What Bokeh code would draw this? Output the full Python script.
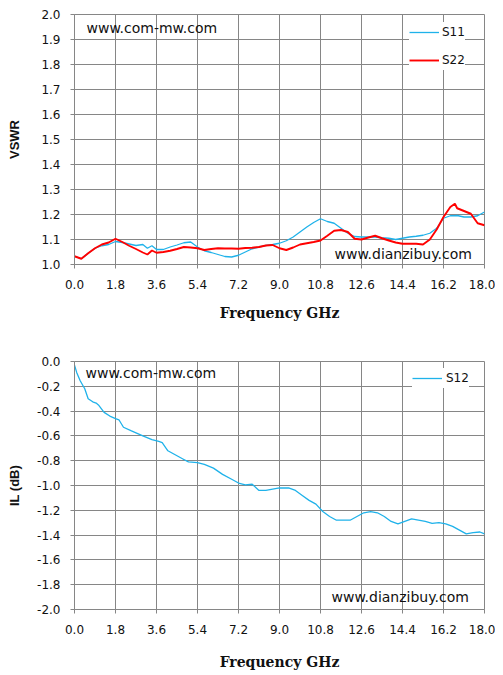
from bokeh.plotting import figure
from bokeh.models import (Range1d, FixedTicker, NumeralTickFormatter, Legend,
                          LegendItem, Label)
from bokeh.layouts import column
from bokeh.embed import file_html
from bokeh.resources import INLINE

# ---------------- data ----------------
freq_vswr = [0.0, 0.3, 0.6, 0.9, 1.2, 1.5, 1.8, 2.1, 2.4, 2.7, 3.0, 3.2, 3.4, 3.6,
             3.9, 4.2, 4.5, 4.8, 5.1, 5.4, 5.7, 6.0, 6.3, 6.6, 6.9, 7.2, 7.5, 7.8,
             8.1, 8.4, 8.7, 9.0, 9.3, 9.6, 9.9, 10.2, 10.5, 10.8, 11.1, 11.4, 11.7,
             12.0, 12.3, 12.6, 12.9, 13.2, 13.5, 13.8, 14.1, 14.4, 14.7, 15.0, 15.3,
             15.6, 15.9, 16.2, 16.5, 16.7, 16.8, 17.1, 17.4, 17.7, 18.0]
s11 = [1.033, 1.023, 1.045, 1.065, 1.075, 1.080, 1.092, 1.088, 1.082, 1.076, 1.080,
       1.065, 1.075, 1.060, 1.060, 1.070, 1.078, 1.087, 1.090, 1.070, 1.055, 1.048,
       1.040, 1.032, 1.030, 1.037, 1.050, 1.063, 1.070, 1.076, 1.080, 1.085, 1.095,
       1.110, 1.130, 1.150, 1.168, 1.183, 1.172, 1.165, 1.145, 1.125, 1.112, 1.110,
       1.110, 1.110, 1.107, 1.105, 1.100, 1.105, 1.110, 1.113, 1.117, 1.125, 1.145,
       1.185, 1.195, 1.195, 1.196, 1.190, 1.190, 1.195, 1.210]
s22 = [1.033, 1.023, 1.045, 1.065, 1.080, 1.088, 1.103, 1.090, 1.075, 1.062, 1.048,
       1.040, 1.056, 1.047, 1.050, 1.055, 1.062, 1.070, 1.068, 1.065, 1.058, 1.062,
       1.065, 1.064, 1.064, 1.063, 1.066, 1.067, 1.070, 1.076, 1.078, 1.065, 1.058,
       1.068, 1.080, 1.085, 1.090, 1.096, 1.115, 1.135, 1.138, 1.130, 1.103, 1.100,
       1.108, 1.115, 1.105, 1.096, 1.088, 1.083, 1.083, 1.083, 1.080, 1.100, 1.140,
       1.190, 1.230, 1.243, 1.225, 1.214, 1.203, 1.165, 1.157]

freq_il = [0.0, 0.1, 0.25, 0.45, 0.6, 0.8, 0.95, 1.05, 1.3, 1.55, 1.8, 1.95, 2.15,
           2.5, 3.0, 3.4, 3.7, 3.85, 4.1, 4.4, 4.8, 5.0, 5.4, 5.7, 6.1, 6.5, 6.9,
           7.2, 7.5, 7.8, 8.1, 8.4, 8.7, 9.0, 9.4, 9.7, 10.0, 10.3, 10.6, 10.9, 11.2,
           11.5, 11.8, 12.1, 12.4, 12.7, 13.0, 13.3, 13.6, 13.9, 14.2, 14.5, 14.8,
           15.1, 15.4, 15.7, 16.0, 16.3, 16.6, 16.9, 17.2, 17.5, 17.8, 18.0]
s12 = [-0.03, -0.09, -0.155, -0.22, -0.30, -0.325, -0.335, -0.35, -0.41, -0.44,
       -0.46, -0.47, -0.53, -0.56, -0.60, -0.63, -0.645, -0.655, -0.72, -0.75,
       -0.79, -0.81, -0.815, -0.83, -0.86, -0.91, -0.95, -0.98, -0.995, -0.99,
       -1.04, -1.04, -1.03, -1.02, -1.02, -1.04, -1.08, -1.12, -1.15, -1.21,
       -1.25, -1.28, -1.28, -1.28, -1.25, -1.22, -1.21, -1.22, -1.25, -1.29,
       -1.31, -1.29, -1.27, -1.28, -1.29, -1.305, -1.30, -1.31, -1.33, -1.36,
       -1.39, -1.38, -1.375, -1.39]

x_ticks = [0.0, 1.8, 3.6, 5.4, 7.2, 9.0, 10.8, 12.6, 14.4, 16.2, 18.0]
vswr_ticks = [1.0, 1.1, 1.2, 1.3, 1.4, 1.5, 1.6, 1.7, 1.8, 1.9, 2.0]
il_ticks = [-2.0, -1.8, -1.6, -1.4, -1.2, -1.0, -0.8, -0.6, -0.4, -0.2, 0.0]

x_title = "Frequency GHz"
site1 = "www.com-mw.com"
site2 = "www.dianzibuy.com"

BLUE = "#1FB2EA"
RED = "#FF0000"
GRID = "#868686"
TXT = "#111111"


def style(p, yticks, ylabel, label_standoff_x, label_standoff_y):
    p.xaxis.ticker = FixedTicker(ticks=x_ticks)
    p.yaxis.ticker = FixedTicker(ticks=yticks)
    p.xaxis.formatter = NumeralTickFormatter(format="0.0")
    p.yaxis.formatter = NumeralTickFormatter(format="0.0")
    p.xgrid.ticker = FixedTicker(ticks=x_ticks)
    p.ygrid.ticker = FixedTicker(ticks=yticks)
    for g in (p.xgrid[0], p.ygrid[0]):
        g.grid_line_color = GRID
        g.grid_line_width = 1
    for ax in (p.xaxis[0], p.yaxis[0]):
        ax.axis_line_color = GRID
        ax.major_tick_line_color = GRID
        ax.minor_tick_line_color = None
        ax.major_tick_in = 0
        ax.major_tick_out = 4
        ax.major_label_text_font = "DejaVu Sans"
        ax.major_label_text_font_size = "12px"
        ax.major_label_text_color = TXT
    p.xaxis.major_label_standoff = 11
    p.yaxis.major_label_standoff = 10
    p.xaxis.axis_label = x_title
    p.xaxis.axis_label_text_font = "DejaVu Serif"
    p.xaxis.axis_label_text_font_style = "bold"
    p.xaxis.axis_label_text_font_size = "14px"
    p.xaxis.axis_label_text_color = TXT
    p.xaxis.axis_label_standoff = label_standoff_x
    p.yaxis.axis_label = ylabel
    p.yaxis.axis_label_text_font = "Liberation Sans"
    p.yaxis.axis_label_text_font_style = "bold"
    p.yaxis.axis_label_text_font_size = "13px"
    p.yaxis.axis_label_text_color = TXT
    p.yaxis.axis_label_standoff = label_standoff_y
    p.outline_line_color = GRID
    p.background_fill_color = "white"
    p.border_fill_color = "white"


def site_labels(p, y_top, y_bot, x_top, x_bot):
    for txt, x, y in ((site1, x_top, y_top), (site2, x_bot, y_bot)):
        p.add_layout(Label(x=x, y=y, x_units="screen", y_units="screen", text=txt,
                           text_font="DejaVu Sans", text_font_size="14px",
                           text_color=TXT, text_baseline="middle",
                           background_fill_color=None))


# ---------------- top chart ----------------
p1 = figure(width=495, height=330, output_backend="svg", toolbar_location=None,
            x_range=Range1d(0, 18), y_range=Range1d(1.0, 2.0),
            min_border_left=74, min_border_right=11, min_border_top=14,
            min_border_bottom=66)
style(p1, vswr_ticks, "VSWR", 13, 16)
r11 = p1.line(freq_vswr, s11, line_color=BLUE, line_width=1.3)
r22 = p1.line(freq_vswr, s22, line_color=RED, line_width=1.9)
leg1 = Legend(items=[LegendItem(label="S11", renderers=[r11]),
                     LegendItem(label="S22", renderers=[r22])],
              location=(335, 194), margin=0, padding=5, spacing=8,
              glyph_width=30, glyph_height=20, label_height=20,
              label_standoff=3, label_text_font="DejaVu Sans",
              label_text_font_size="12px", label_text_color=TXT,
              border_line_color=None, background_fill_color="white",
              background_fill_alpha=1.0)
p1.add_layout(leg1, "center")
site_labels(p1, 237, 11, 12, 260)

# ---------------- bottom chart ----------------
p2 = figure(width=495, height=343, output_backend="svg", toolbar_location=None,
            x_range=Range1d(0, 18), y_range=Range1d(-2.0, 0.0),
            min_border_left=74, min_border_right=11, min_border_top=31,
            min_border_bottom=64)
style(p2, il_ticks, "IL (dB)", 17, 12)
r12 = p2.line(freq_il, s12, line_color=BLUE, line_width=1.3)
leg2 = Legend(items=[LegendItem(label="S12", renderers=[r12])],
              location=(338, 221), margin=0, padding=4, spacing=8,
              glyph_width=30, glyph_height=20, label_height=20,
              label_standoff=4, label_text_font="DejaVu Sans",
              label_text_font_size="12px", label_text_color=TXT,
              border_line_color=None, background_fill_color="white",
              background_fill_alpha=1.0)
p2.add_layout(leg2, "center")
site_labels(p2, 237, 13, 11, 257)

layout = column(p1, p2, spacing=0)
open("out.html", "w").write(file_html(layout, INLINE))
